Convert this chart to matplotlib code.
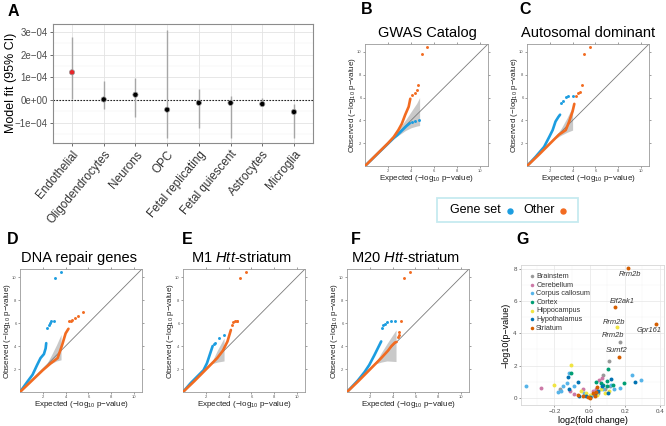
import matplotlib
matplotlib.use("Agg")
import matplotlib.pyplot as plt
from matplotlib.patches import Rectangle
import numpy as np

plt.rcParams['font.family'] = ['Liberation Sans', 'DejaVu Sans']
plt.rcParams['mathtext.fontset'] = 'custom'
plt.rcParams['mathtext.rm'] = 'Liberation Sans'
plt.rcParams['mathtext.it'] = 'Liberation Sans:italic'
plt.rcParams['mathtext.default'] = 'regular'
plt.rcParams['axes.unicode_minus'] = True

W, H = 666, 426
fig = plt.figure(figsize=(W / 100, H / 100), dpi=100)

def px_axes(l, t, r, b):
    return fig.add_axes([l / W, 1 - b / H, (r - l) / W, (b - t) / H])

def ftext(x, y, s, **kw):
    fig.text(x / W, 1 - y / H, s, **kw)

# ---------------- Panel A data ----------------
cell_types = ["Endothelial", "Oligodendrocytes", "Neurons", "OPC",
              "Fetal replicating", "Fetal quiescent", "Astrocytes", "Microglia"]
fit_est = [1.22e-4, 0.02e-4, 0.23e-4, -0.43e-4, -0.13e-4, -0.13e-4, -0.18e-4, -0.53e-4]
ci_low = [0.03e-4, -0.41e-4, -0.76e-4, -1.66e-4, -1.26e-4, -1.66e-4, -0.28e-4, -1.66e-4]
ci_high = [2.76e-4, 0.84e-4, 0.98e-4, 3.10e-4, 0.48e-4, 0.18e-4, 0.07e-4, -0.18e-4]
a_yticks = [-1e-4, 0, 1e-4, 2e-4, 3e-4]
a_yticklabels = ["\u22121e\u221204", "0e+00", "1e\u221204", "2e\u221204", "3e\u221204"]

# ---------------- QQ panel data (expected, observed) ----------------
gwas_gene_x = [0, 2.5, 2.8, 3.2, 3.6, 3.9]
gwas_gene_y = [0, 2.45, 2.7, 3.1, 3.5, 3.75]
gwas_gene_tail_x = [4.1, 4.35, 4.7]
gwas_gene_tail_y = [3.85, 3.95, 4.05]
gwas_other_x = [0, 1, 2, 2.5, 2.9, 3.2, 3.5, 3.8, 3.94]
gwas_other_y = [0, 1, 2, 2.55, 3.15, 3.7, 4.5, 5.2, 5.9]
gwas_other_tail_x = [4.09, 4.32, 4.5, 4.65, 4.95, 5.4]
gwas_other_tail_y = [6.2, 6.38, 6.68, 7.1, 9.85, 10.45]
gwas_band_x = [2.4, 3.0, 3.5, 4.0, 4.5, 4.75]
gwas_band_lo = [2.35, 2.75, 3.1, 3.35, 3.5, 3.55]
gwas_band_hi = [2.45, 3.3, 4.0, 4.75, 5.5, 6.0]

auto_gene_x = [0, 0.75, 1.5, 1.95, 2.25, 2.5, 2.75, 2.9]
auto_gene_y = [0, 0.8, 1.68, 2.55, 3.15, 3.9, 4.3, 4.5]
auto_gene_tail_x = [2.97, 3.12, 3.41, 3.56, 4.0]
auto_gene_tail_y = [5.56, 5.74, 6.09, 6.15, 6.15]
auto_other_x = [0, 1, 2, 2.8, 3.4, 3.7, 4.0, 4.15]
auto_other_y = [0, 0.95, 1.95, 2.75, 3.15, 3.9, 4.8, 5.45]
auto_other_tail_x = [4.3, 4.44, 4.65, 4.8, 5.0, 5.5]
auto_other_tail_y = [6.15, 6.38, 6.53, 7.12, 9.85, 10.45]
auto_band_x = [2.4, 3.0, 3.5, 4.0]
auto_band_lo = [2.35, 2.7, 2.95, 3.15]
auto_band_hi = [2.45, 3.3, 4.2, 5.2]

dna_gene_x = [0, 0.65, 1.1, 1.5, 1.8, 2.1, 2.25, 2.3]
dna_gene_y = [0, 0.9, 1.5, 2.35, 2.95, 3.3, 3.8, 4.25]
dna_gene_tail_x = [2.4, 2.5, 2.6, 2.75, 2.95, 3.05, 3.6]
dna_gene_tail_y = [5.6, 5.8, 6.0, 6.15, 6.2, 9.9, 10.4]
dna_other_x = [0, 1, 2, 2.7, 3.3, 3.7, 4.0, 4.25]
dna_other_y = [0, 0.95, 1.9, 2.5, 2.95, 4.1, 5.1, 5.5]
dna_other_tail_x = [4.3, 4.45, 4.6, 4.8, 5.05, 5.5]
dna_other_tail_y = [6.15, 6.2, 6.25, 6.45, 6.6, 7.0]
dna_band_x = [2.3, 2.8, 3.2, 3.6]
dna_band_lo = [2.25, 2.5, 2.7, 2.8]
dna_band_hi = [2.35, 3.3, 4.1, 5.0]

m1_gene_x = [0, 0.65, 1.4, 1.8, 2.1, 2.4, 2.6]
m1_gene_y = [0, 0.75, 1.5, 1.9, 2.5, 3.4, 4.0]
m1_gene_tail_x = [2.7, 2.85, 3.15, 3.6]
m1_gene_tail_y = [4.15, 4.3, 4.7, 5.0]
m1_other_x = [0, 1, 2, 3, 3.5, 3.9, 4.2]
m1_other_y = [0, 0.95, 1.95, 2.95, 3.6, 4.4, 5.4]
m1_other_tail_x = [4.3, 4.4, 4.55, 4.7, 4.75, 5.0, 5.5]
m1_other_tail_y = [5.85, 6.05, 6.15, 6.2, 6.2, 9.9, 10.4]
m1_band_x = [2.5, 3.0, 3.6]
m1_band_lo = [2.45, 2.6, 2.7]
m1_band_hi = [2.55, 3.6, 4.7]

m20_gene_x = [0, 0.95, 1.55, 1.95, 2.4, 2.7, 3.0]
m20_gene_y = [0, 1.0, 1.75, 2.35, 3.2, 3.8, 4.4]
m20_gene_tail_x = [3.1, 3.2, 3.35, 3.55, 3.9, 4.2]
m20_gene_tail_y = [5.6, 5.8, 5.95, 6.1, 6.2, 6.2]
m20_other_x = [0, 1, 2, 3, 3.6, 3.9, 4.2, 4.35]
m20_other_y = [0, 0.95, 1.95, 2.95, 3.6, 4.0, 4.3, 4.35]
m20_other_tail_x = [4.45, 4.55, 4.6, 4.75, 5.0, 5.5]
m20_other_tail_y = [4.75, 5.0, 5.2, 6.2, 9.9, 10.4]
m20_band_x = [2.5, 3.0, 3.5, 4.3]
m20_band_lo = [2.45, 2.6, 2.7, 2.65]
m20_band_hi = [2.55, 3.4, 4.2, 5.4]

# ---------------- Panel G data ----------------
tissues = ["Brainstem", "Cerebellum", "Corpus callosum", "Cortex",
           "Hippocampus", "Hypothalamus", "Striatum"]
tissue_colors = ["#999999", "#CC79A7", "#56B4E9", "#009E73", "#F0E442", "#0072B2", "#D55E00"]
brainstem_x = [0.175, 0.113, 0.078, -0.169, 0.016, 0.087, 0.117, 0.05]
brainstem_y = [3.46, 2.27, 1.44, 0.52, 0.14, 0.52, 0.76, 0.30]
cerebellum_x = [-0.276, -0.113, -0.087, -0.039, 0.035, 0.054, 0.068, 0.02]
cerebellum_y = [0.58, 0.41, 0.21, 0.52, 0.52, 1.09, 1.24, 0.40]
callosum_x = [-0.359, -0.179, -0.151, -0.126, -0.117, -0.087, -0.029, 0.078, 0.12,
              0.136, 0.171, 0.243, 0.295, 0.01, -0.165]
callosum_y = [0.76, 0.37, 0.72, 0.93, 1.55, 0.72, 0.27, 0.52, 0.82,
              0.52, 0.58, 1.40, 1.13, 0.08, 0.45]
cortex_x = [-0.103, 0.039, 0.062, 0.078, 0.097, 0.101, 0.107, 0.132, 0.198]
cortex_y = [1.55, 0.97, 0.93, 0.82, 1.03, 0.72, 1.81, 0.82, 0.93]
hippocampus_x = [0.155, -0.105, -0.2, -0.049, -0.019, 0.062, 0.087, 0.113, 0.04, 0.0]
hippocampus_y = [4.37, 2.02, 0.82, 0.41, 0.31, 0.56, 0.27, 0.41, 0.15, 0.20]
hypothalamus_x = [-0.12, -0.117, -0.068, -0.058, 0.029, 0.049, 0.068, 0.107, 0.12, 0.256, 0.0, -0.02]
hypothalamus_y = [1.28, 0.52, 0.97, 0.10, 0.21, 0.41, 0.72, 0.31, 1.18, 0.99, 0.05, 0.10]
striatum_x = [0.219, 0.142, 0.379, 0.169, -0.068, -0.01, 0.004, 0.019, 0.039, 0.043, -0.04, 0.03]
striatum_y = [8.04, 5.63, 4.58, 2.52, 0.14, 0.06, 0.0, 0.27, 0.35, 0.68, 0.12, 0.10]
gene_labels = ["Rrm2b", "Eif2ak1", "Rrm2b", "Gpr161", "Rrm2b", "Sumf2"]
gene_label_x = [0.227, 0.186, 0.136, 0.34, 0.132, 0.155]
gene_label_y = [7.67, 5.98, 4.70, 4.16, 3.86, 2.93]

BLUE = "#1c9de0"
ORANGE = "#f26b21"

# ================= Panel A =================
axA = px_axes(53, 24, 313, 143)
xpos = np.arange(len(cell_types))
axA.set_xlim(-0.6, len(cell_types) - 0.4)
axA.set_ylim(-1.9e-4, 3.35e-4)
axA.set_yticks(a_yticks)
axA.set_yticklabels(a_yticklabels)
axA.set_yticks([-1.5e-4, -0.5e-4, 0.5e-4, 1.5e-4, 2.5e-4], minor=True)
axA.set_xticks(xpos)
axA.set_xticklabels(cell_types, rotation=50, ha='right', rotation_mode='anchor')
axA.grid(True, which='major', color='#e3e3e3', lw=0.6)
axA.grid(True, which='minor', axis='y', color='#efefef', lw=0.35)
axA.set_axisbelow(True)
for s in axA.spines.values():
    s.set_color('#8c8c8c')
    s.set_linewidth(0.8)
axA.tick_params(axis='both', which='major', labelsize=7, colors='#555555', length=2.5, width=0.6)
axA.tick_params(axis='x', labelsize=8.5, labelcolor='#333333', pad=1.5)
axA.tick_params(axis='y', labelcolor='#4d4d4d', pad=1.5)
axA.tick_params(which='minor', length=0)
axA.axhline(0, color='black', lw=0.8, ls=(0, (1.2, 1.5)), zorder=2)
axA.vlines(xpos, ci_low, ci_high, color='#a6a6a6', lw=1.0, zorder=3)
pt_colors = ['#e8262b'] + ['black'] * (len(cell_types) - 1)
axA.scatter(xpos, fit_est, s=14, c=pt_colors, edgecolors='#9a9a9a', linewidths=0.5, zorder=4)
ftext(11, 83, "Model fit (95% CI)", fontsize=9, rotation=90, ha='center', va='center')
ftext(13, 12, "A", fontsize=11.5, fontweight='bold', ha='center', va='center')

# ================= QQ panels =================
def qq_panel(rect, title, title_xy, letter, letter_xy,
             gx, gy, gtx, gty, ox, oy, otx, oty, bx, blo, bhi):
    ax = px_axes(*rect)
    lim = 10.7
    ax.set_xlim(0, lim)
    ax.set_ylim(0, lim)
    ax.fill_between(bx, blo, bhi, color='#c9c9c9', lw=0, zorder=1)
    ax.plot([0, lim], [0, lim], color='#7a7a7a', lw=0.6, zorder=2)
    ax.plot(gx, gy, color=BLUE, lw=1.9, solid_capstyle='round', zorder=3)
    ax.scatter(gtx, gty, s=4.5, color=BLUE, lw=0, zorder=3)
    ax.plot(ox, oy, color=ORANGE, lw=1.9, solid_capstyle='round', zorder=4)
    ax.scatter(otx, oty, s=4.5, color=ORANGE, lw=0, zorder=4)
    ticks = [2, 4, 6, 8, 10]
    ax.set_xticks(ticks)
    ax.set_yticks(ticks)
    ax.tick_params(top=True, right=True, length=1.5, width=0.4, labelsize=3,
                   colors='#555555', pad=1)
    for s in ax.spines.values():
        s.set_color('#9a9a9a')
        s.set_linewidth(0.6)
    ax.text(0.5, -0.105, "Expected (\u2212log$_{10}$ p\u2212value)", transform=ax.transAxes,
            ha='center', va='center', fontsize=5.8, color='#222222')
    ax.text(-0.105, 0.5, "Observed (\u2212log$_{10}$ p\u2212value)", transform=ax.transAxes,
            ha='center', va='center', rotation=90, fontsize=5.8, color='#222222')
    ftext(title_xy[0], title_xy[1], title, fontsize=10.5, ha='center', va='center')
    ftext(letter_xy[0], letter_xy[1], letter, fontsize=11.5, fontweight='bold',
          ha='center', va='center')
    return ax

qq_panel((365, 44, 488, 166), "GWAS Catalog", (427, 33), "B", (367, 10),
         gwas_gene_x, gwas_gene_y, gwas_gene_tail_x, gwas_gene_tail_y,
         gwas_other_x, gwas_other_y, gwas_other_tail_x, gwas_other_tail_y,
         gwas_band_x, gwas_band_lo, gwas_band_hi)
qq_panel((527, 44, 649, 166), "Autosomal dominant", (588, 33), "C", (525, 10),
         auto_gene_x, auto_gene_y, auto_gene_tail_x, auto_gene_tail_y,
         auto_other_x, auto_other_y, auto_other_tail_x, auto_other_tail_y,
         auto_band_x, auto_band_lo, auto_band_hi)
qq_panel((20, 269, 142, 392), "DNA repair genes", (79, 258), "D", (13, 240),
         dna_gene_x, dna_gene_y, dna_gene_tail_x, dna_gene_tail_y,
         dna_other_x, dna_other_y, dna_other_tail_x, dna_other_tail_y,
         dna_band_x, dna_band_lo, dna_band_hi)
qq_panel((183, 269, 305, 392), "M1 $\\it{Htt}$-striatum", (242, 258), "E", (187, 240),
         m1_gene_x, m1_gene_y, m1_gene_tail_x, m1_gene_tail_y,
         m1_other_x, m1_other_y, m1_other_tail_x, m1_other_tail_y,
         m1_band_x, m1_band_lo, m1_band_hi)
qq_panel((347, 269, 469, 392), "M20 $\\it{Htt}$-striatum", (406, 258), "F", (356, 240),
         m20_gene_x, m20_gene_y, m20_gene_tail_x, m20_gene_tail_y,
         m20_other_x, m20_other_y, m20_other_tail_x, m20_other_tail_y,
         m20_band_x, m20_band_lo, m20_band_hi)

# legend box for QQ panels
fig.patches.append(Rectangle((437 / W, 1 - 222 / H), 141 / W, 24 / H,
                             transform=fig.transFigure, facecolor='white',
                             edgecolor='#c6eaf0', lw=1.3))
ftext(450, 210, "Gene set", fontsize=9, ha='left', va='center')
ftext(523, 210, "Other", fontsize=9, ha='left', va='center')
fig.lines.append(plt.Line2D([510 / W], [1 - 211 / H], marker='o', ms=3.6, color=BLUE,
                            transform=fig.transFigure, lw=0))
fig.lines.append(plt.Line2D([563 / W], [1 - 211 / H], marker='o', ms=3.6, color=ORANGE,
                            transform=fig.transFigure, lw=0))

# ================= Panel G =================
axG = px_axes(521, 265, 664, 405)
axG.set_xlim(-0.39, 0.423)
axG.set_ylim(-0.45, 8.24)
axG.set_xticks([-0.2, 0.0, 0.2, 0.4])
axG.set_xticklabels(["\u22120.2", "0.0", "0.2", "0.4"])
axG.set_yticks([0, 2, 4, 6, 8])
axG.set_xticks([-0.3, -0.1, 0.1, 0.3], minor=True)
axG.set_yticks([1, 3, 5, 7], minor=True)
axG.grid(True, which='major', color='#e6e6e6', lw=0.5)
axG.grid(True, which='minor', color='#f2f2f2', lw=0.3)
axG.set_axisbelow(True)
for s in axG.spines.values():
    s.set_color('#d6d6d6')
    s.set_linewidth(0.6)
axG.tick_params(which='major', labelsize=4.5, colors='#4d4d4d', length=1.5, width=0.4, pad=1.5)
axG.tick_params(which='minor', length=0)
series_x = [brainstem_x, cerebellum_x, callosum_x, cortex_x, hippocampus_x, hypothalamus_x, striatum_x]
series_y = [brainstem_y, cerebellum_y, callosum_y, cortex_y, hippocampus_y, hypothalamus_y, striatum_y]
for name, col, xs, ys in zip(tissues, tissue_colors, series_x, series_y):
    axG.scatter(xs, ys, s=8, color=col, lw=0, label=name, zorder=3)
for lab, lx, ly in zip(gene_labels, gene_label_x, gene_label_y):
    axG.text(lx, ly, lab, fontsize=5.4, style='italic', color='#333333',
             ha='center', va='center', zorder=4)
leg = axG.legend(loc='upper left', bbox_to_anchor=(0.02, 0.975), fontsize=5.2, frameon=False,
                 handletextpad=0.1, labelspacing=0.22, markerscale=0.9,
                 handlelength=1.0, borderaxespad=0.2)
for t in leg.get_texts():
    t.set_color('#333333')
axG.set_xlabel("log2(fold change)", fontsize=6.5, labelpad=1.5)
axG.set_ylabel("\u2212log10(p\u2212value)", fontsize=6.5, labelpad=2)
ftext(523, 240, "G", fontsize=11.5, fontweight='bold', ha='center', va='center')

fig.savefig("out.png", dpi=100)
